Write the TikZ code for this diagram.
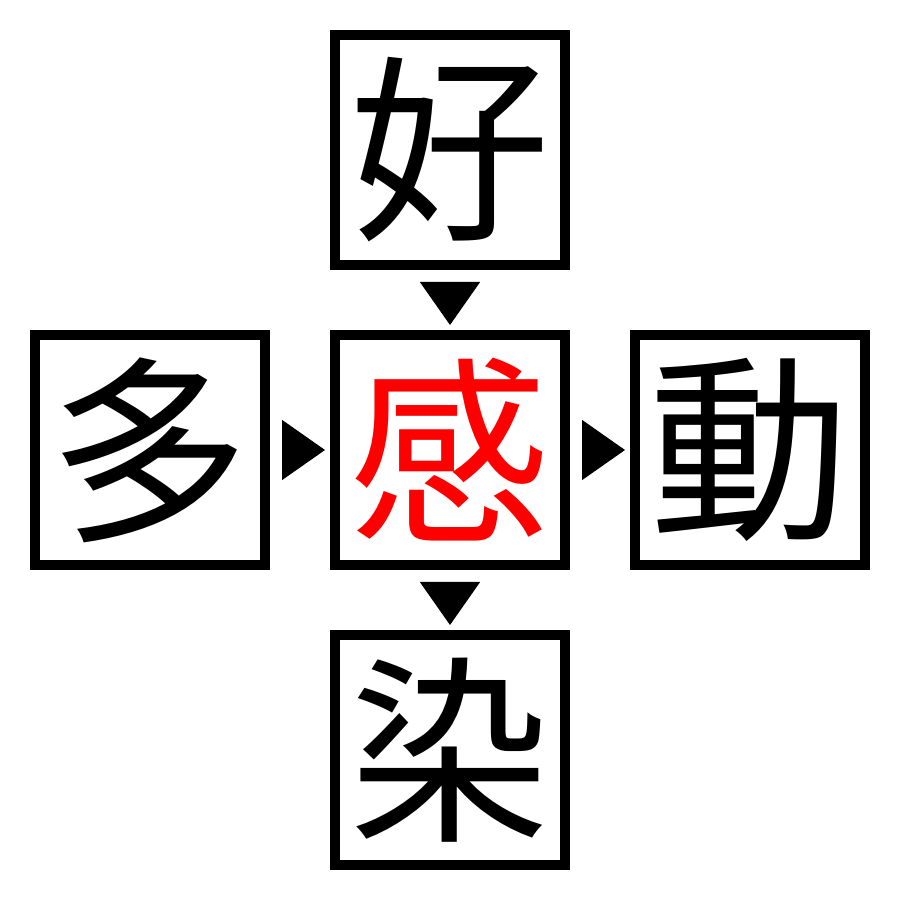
\documentclass[tikz,border=0pt]{standalone}
\usepackage{fontspec}
\newfontfamily\cjk{Noto Sans CJK JP}
\usetikzlibrary{arrows.meta}
\tikzstyle{charV}=[draw, line width=1mm, minimum size=2.3cm, inner sep=0pt, font=\cjk\fontsize{57}{57}\selectfont]
\tikzstyle{redV}=[charV, text=red]
\tikzstyle{triE}=[-{Triangle[length=4.3mm, width=6mm]}, shorten <=1.2mm, shorten >=0.5mm]

\begin{document}
\begin{tikzpicture}
    \useasboundingbox (0,0) rectangle (9,9);

    %%%%%  Casillas  %%%%%
    \node (hao)  [charV] at (4.5,7.5) {好};
    \node (duo)  [charV] at (1.5,4.5) {多};
    \node (gan)  [redV]  at (4.5,4.5) {感};
    \node (dong) [charV] at (7.5,4.5) {動};
    \node (ran)  [charV] at (4.5,1.5) {染};

    %%%%%  Flechas  %%%%%
    \draw [triE] (hao) to (gan);
    \draw [triE] (duo) to (gan);
    \draw [triE] (gan) to (dong);
    \draw [triE] (gan) to (ran);
\end{tikzpicture}
\end{document}
